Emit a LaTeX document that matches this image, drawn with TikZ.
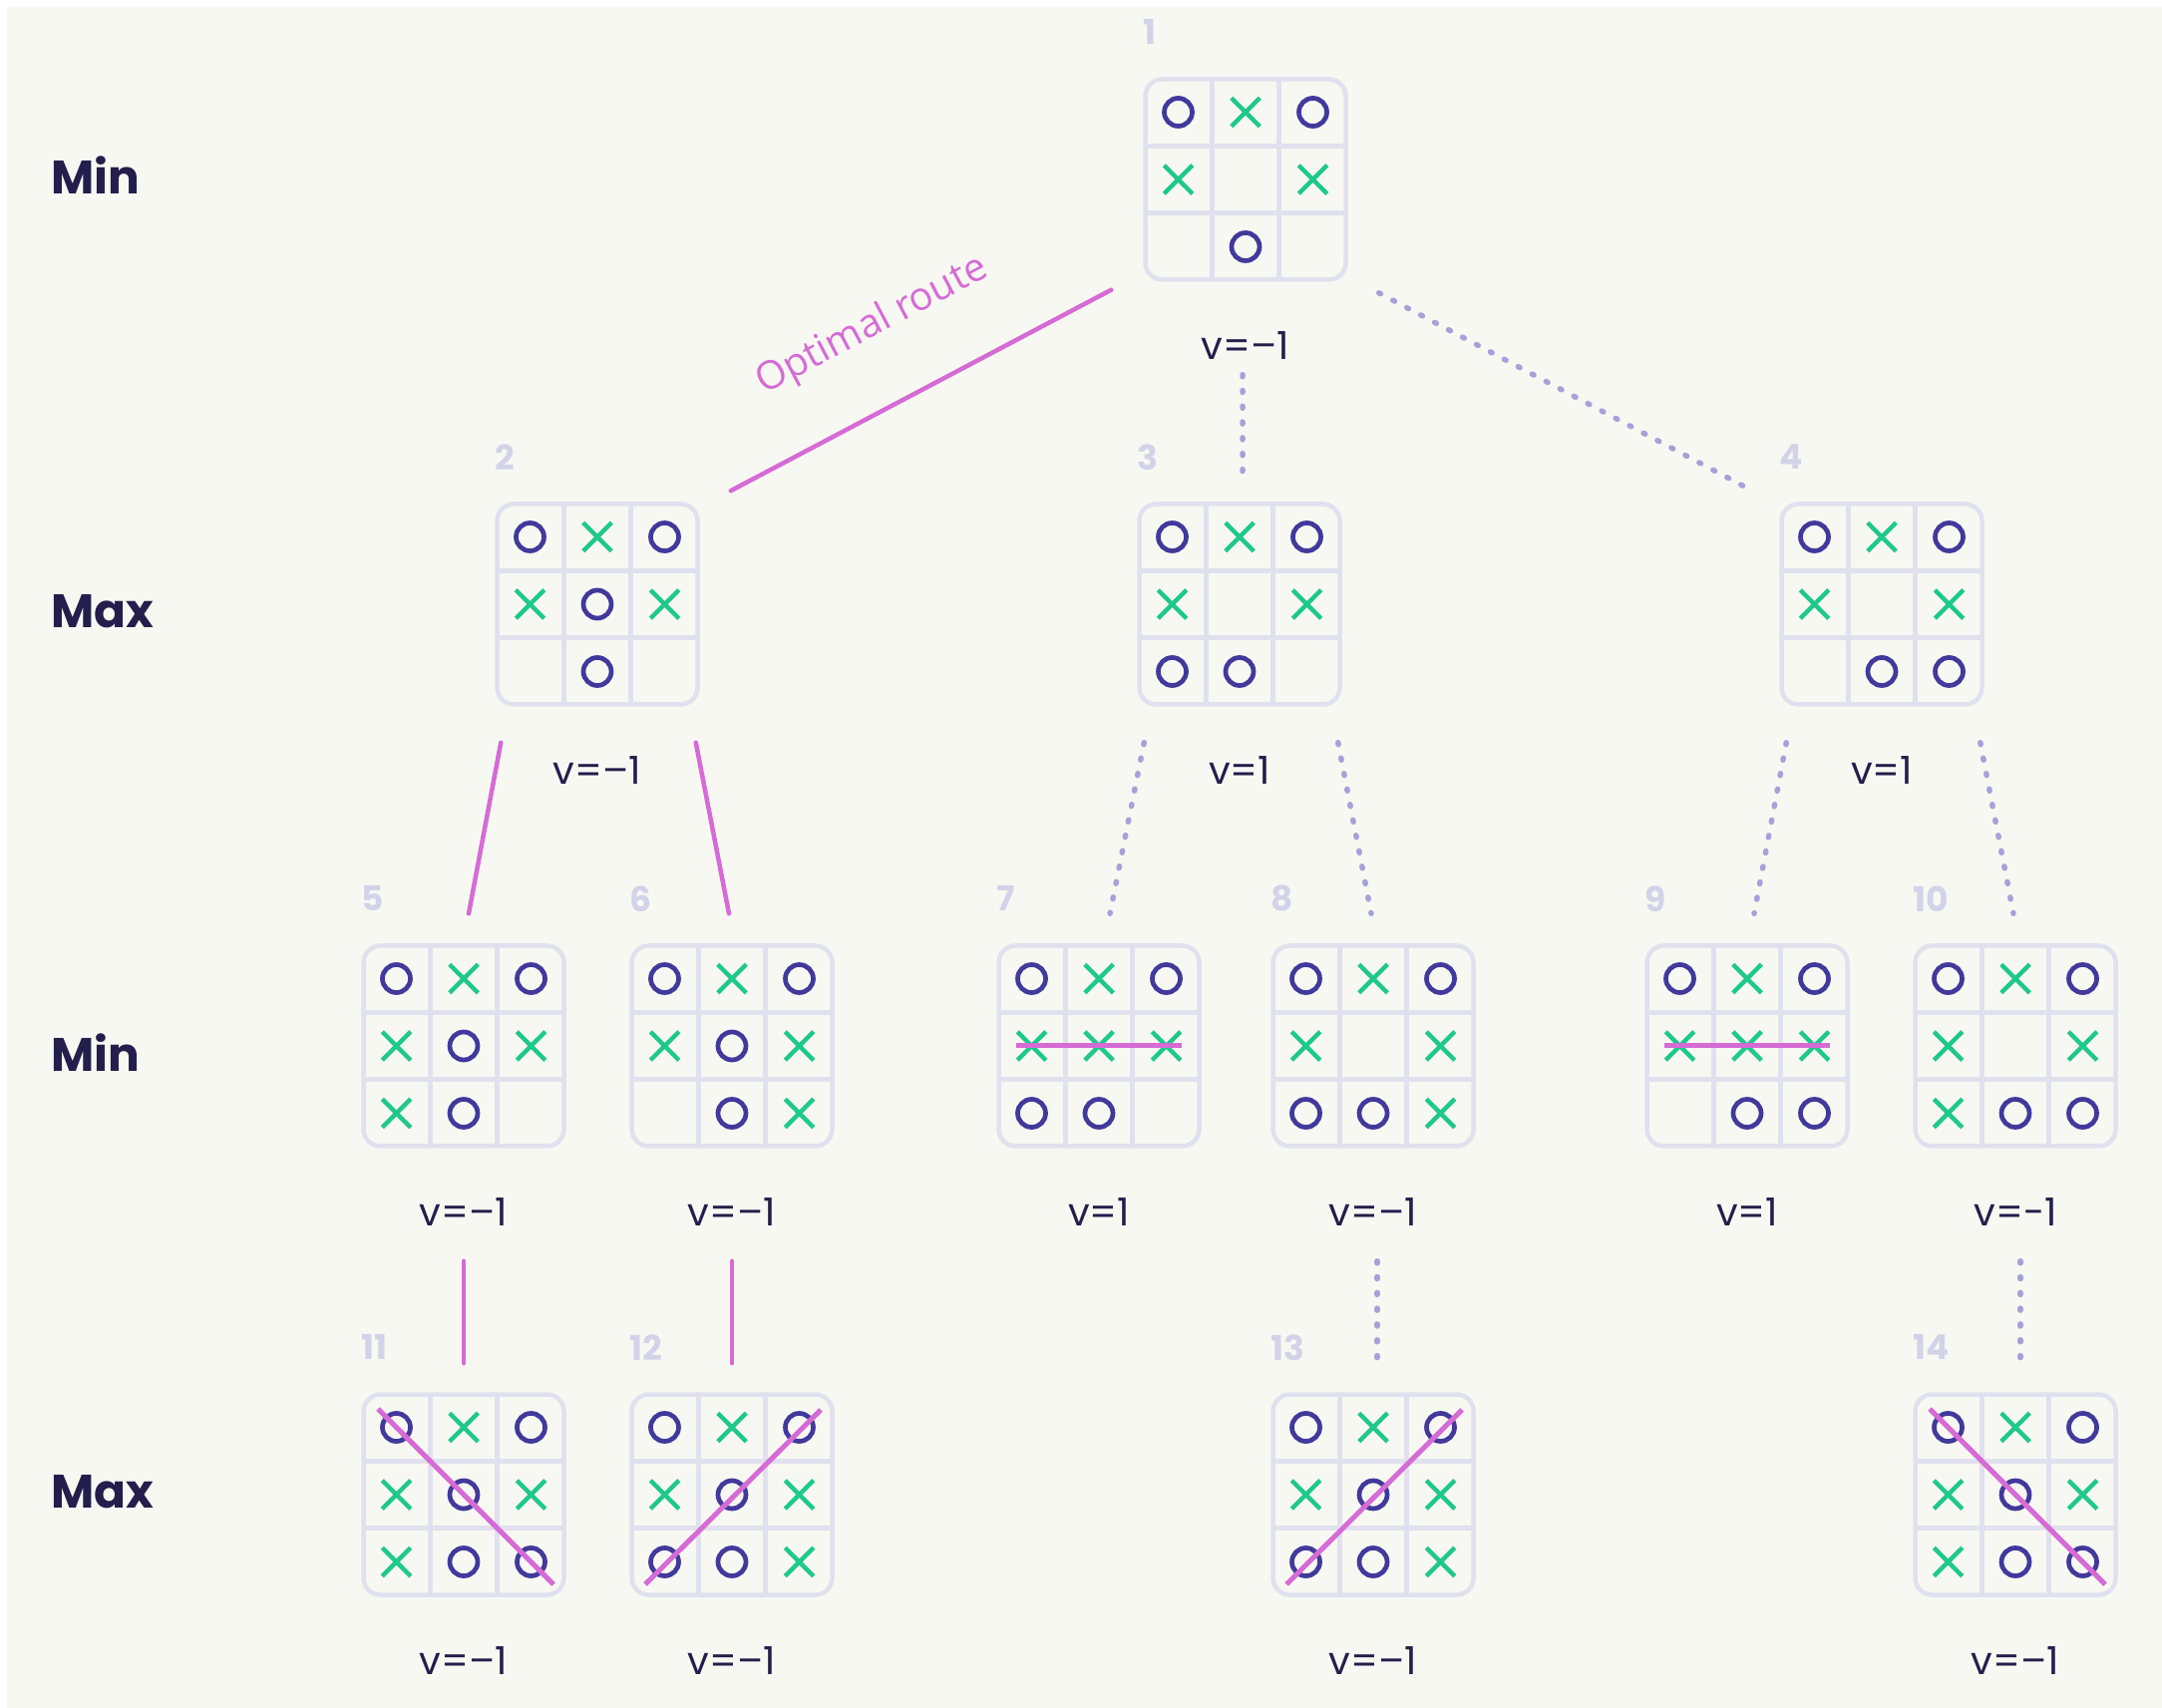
\documentclass[tikz,border=0pt]{standalone}
\usepackage{fontspec}
\setmainfont{Poppins}
\newfontfamily\routefont{Open Sans}
\usetikzlibrary{shapes.misc}

\definecolor{bgc}{HTML}{F8F8F3}
\definecolor{gridc}{HTML}{E1E0EE}
\definecolor{ocol}{HTML}{41399B}
\definecolor{xcol}{HTML}{1FC98B}
\definecolor{winc}{HTML}{D66BD6}
\definecolor{dotc}{HTML}{A6A2D8}
\definecolor{numc}{HTML}{D4D2E8}
\definecolor{inkc}{HTML}{231E4B}

\begin{document}
\begin{tikzpicture}[
        % --- Board styles ---
        board/.style={
            draw=gridc, line width=0.045cm, rounded corners=0.17cm,
            minimum size=2.01cm, inner sep=0pt,
            path picture={
                \foreach \s in {-0.335,0.335} {
                    \draw[gridc, line width=0.045cm]
                        ([xshift=\s cm]path picture bounding box.north) -- ([xshift=\s cm]path picture bounding box.south);
                    \draw[gridc, line width=0.045cm]
                        ([yshift=\s cm]path picture bounding box.west) -- ([yshift=\s cm]path picture bounding box.east);
                }
            }
        },
        cell o/.style={circle, draw=ocol, line width=0.047cm, minimum size=0.28cm, inner sep=0pt},
        cell x/.style={cross out, draw=xcol, line width=0.045cm, minimum size=0.24cm, inner sep=0pt},
        cell n/.style={inner sep=0pt},
        winline/.style={draw=winc, line width=0.05cm},
        % --- Text styles ---
        level/.style={font=\fontsize{13.4}{15}\selectfont\bfseries, text=inkc, anchor=west, inner sep=0pt},
        num/.style={font=\fontsize{9.8}{11}\selectfont\bfseries, text=numc, anchor=west, inner sep=0pt},
        val/.style={font=\fontsize{11}{13}\selectfont, text=inkc},
        routelabel/.style={font=\routefont\fontsize{11.2}{13}\selectfont, text=winc, inner sep=0pt},
        % --- Connector styles ---
        optline/.style={draw=winc, line width=0.045cm, line cap=round},
        dotline/.style={draw=dotc, line width=0.055cm, line cap=round, dash pattern=on 0.02cm off 0.138cm},
    ]

    % ===== Canvas =====
    \useasboundingbox (0,0) rectangle (21.68,-17.13);
    \fill[bgc] (0.07,-0.07) rectangle (21.68,-17.13);

    % ===== Level labels =====
    \node[level] (lvl1) at (0.51,-1.76)  {Min};
    \node[level] (lvl2) at (0.51,-6.13)  {Max};
    \node[level] (lvl3) at (0.51,-10.56) {Min};
    \node[level] (lvl4) at (0.51,-14.96) {Max};

    % ===== Boards =====
    %  o = circle, x = cross, n = empty (row by row)
    \foreach \b/\x/\y/\cells in {
        1/12.49/-1.80/{o,x,o,x,n,x,n,o,n},
        2/5.99/-6.06/{o,x,o,x,o,x,n,o,n},
        3/12.43/-6.06/{o,x,o,x,n,x,o,o,n},
        4/18.87/-6.06/{o,x,o,x,n,x,n,o,o},
        5/4.65/-10.49/{o,x,o,x,o,x,x,o,n},
        6/7.34/-10.49/{o,x,o,x,o,x,n,o,x},
        7/11.02/-10.49/{o,x,o,x,x,x,o,o,n},
        8/13.77/-10.49/{o,x,o,x,n,x,o,o,x},
        9/17.52/-10.49/{o,x,o,x,x,x,n,o,o},
        10/20.21/-10.49/{o,x,o,x,n,x,x,o,o},
        11/4.65/-14.99/{o,x,o,x,o,x,x,o,o},
        12/7.34/-14.99/{o,x,o,x,o,x,o,o,x},
        13/13.77/-14.99/{o,x,o,x,o,x,o,o,x},
        14/20.21/-14.99/{o,x,o,x,o,x,x,o,o}%
    }{
        \node[board] (b\b) at (\x,\y) {};
        \foreach \m [count=\k from 0] in \cells {
            \pgfmathtruncatemacro\cc{mod(\k,3)-1}
            \pgfmathtruncatemacro\rr{1-int(\k/3)}
            \node[cell \m] (b\b-\k) at ([shift={(\cc*0.675,\rr*0.675)}]b\b.center) {};
        }
        \node[num] (n\b) at ([yshift=0.45cm]b\b.north west) {\b};
    }

    % ===== Values =====
    \foreach \b/\v in {1/–1, 2/–1, 3/1, 4/1, 5/–1, 6/–1, 7/1, 8/–1, 9/1, 10/-1, 11/–1, 12/–1, 13/–1, 14/–1} {
        \node[val] (v\b) at ([yshift=-0.635cm]b\b.south) {v=\v};
    }

    % ===== Winning lines =====
    \draw[winline] ([xshift=-0.83cm]b7.center) -- ([xshift=0.83cm]b7.center);
    \draw[winline] ([xshift=-0.83cm]b9.center) -- ([xshift=0.83cm]b9.center);
    \draw[winline] ([shift={(-0.86,0.86)}]b11.center) -- ([shift={(0.90,-0.90)}]b11.center);
    \draw[winline] ([shift={(-0.87,-0.90)}]b12.center) -- ([shift={(0.89,0.85)}]b12.center);
    \draw[winline] ([shift={(-0.87,-0.90)}]b13.center) -- ([shift={(0.89,0.85)}]b13.center);
    \draw[winline] ([shift={(-0.86,0.86)}]b14.center) -- ([shift={(0.90,-0.90)}]b14.center);

    % ===== Connectors: level 1 -> 2 =====
    \draw[optline] ([shift={(-0.32,-0.08)}]b1.south west) -- node[routelabel, pos=0.53, sloped, above=0.58cm] (route) {Optimal route} ([shift={(0.31,0.11)}]b2.north east);
    \draw[dotline] ([shift={(-0.03,-0.93)}]b1.south) -- ([shift={(0.03,0.29)}]b3.north);
    \draw[dotline] ([shift={(0.31,-0.11)}]b1.south east) -- ([shift={(-0.27,0.11)}]b4.north west);

    % ===== Connectors: level 2 -> 3 =====
    \draw[optline] ([shift={(0.06,-0.36)}]b2.south west) -- ([shift={(0.05,0.30)}]b5.north);
    \draw[optline] ([shift={(-0.04,-0.36)}]b2.south east) -- ([shift={(-0.03,0.30)}]b6.north);
    \draw[dotline] ([shift={(0.07,-0.36)}]b3.south west) -- ([shift={(0.11,0.30)}]b7.north);
    \draw[dotline] ([shift={(-0.04,-0.36)}]b3.south east) -- ([shift={(-0.02,0.30)}]b8.north);
    \draw[dotline] ([shift={(0.07,-0.36)}]b4.south west) -- ([shift={(0.07,0.30)}]b9.north);
    \draw[dotline] ([shift={(-0.04,-0.36)}]b4.south east) -- ([shift={(-0.02,0.30)}]b10.north);

    % ===== Connectors: level 3 -> 4 =====
    \draw[optline] ([yshift=-1.13cm]b5.south) -- ([yshift=0.29cm]b11.north);
    \draw[optline] ([yshift=-1.13cm]b6.south) -- ([yshift=0.29cm]b12.north);
    \draw[dotline] ([shift={(0.04,-1.13)}]b8.south) -- ([shift={(0.04,0.29)}]b13.north);
    \draw[dotline] ([shift={(0.05,-1.13)}]b10.south) -- ([shift={(0.05,0.29)}]b14.north);

\end{tikzpicture}
\end{document}
